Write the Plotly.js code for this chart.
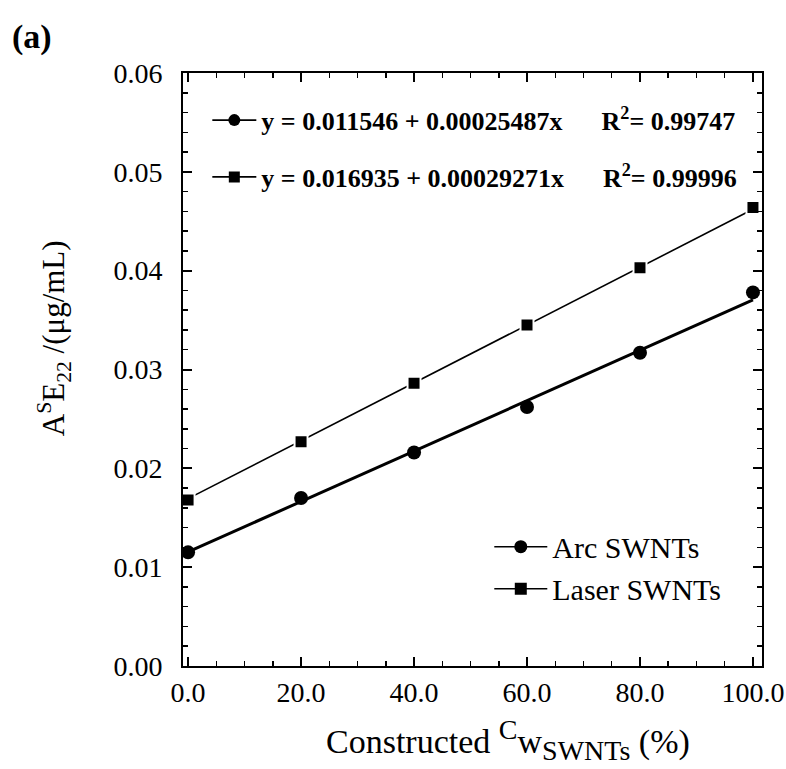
<!DOCTYPE html>
<html>
<head>
<meta charset="utf-8">
<script src="https://cdn.plot.ly/plotly-3.0.1.min.js"></script>
<style>html,body{margin:0;padding:0;background:#fff;}</style>
</head>
<body>
<div id="chart" style="width:786px;height:769px;"></div>
<script>
// ---- data ----
const xVals = [0, 20, 40, 60, 80, 100];
const arcValues = [0.0115, 0.0170, 0.0216, 0.0262, 0.0317, 0.0378];
const laserValues = [0.0168, 0.0227, 0.0286, 0.0345, 0.0403, 0.0464];
const fitX = [0, 100];
const arcFit = [0.011546, 0.037033];
const laserFit = [0.016935, 0.046206];
const seriesNames = ["Arc SWNTs", "Laser SWNTs"];
const equationLabels = [
  "y = 0.011546 + 0.00025487x&nbsp;&nbsp;&nbsp;&nbsp;&nbsp;&nbsp;R<sup>2</sup>= 0.99747",
  "y = 0.016935 + 0.00029271x&nbsp;&nbsp;&nbsp;&nbsp;&nbsp;&nbsp;R<sup>2</sup>= 0.99996"
];
const xTickVals = [0, 20, 40, 60, 80, 100];
const xTickText = ["0.0", "20.0", "40.0", "60.0", "80.0", "100.0"];
const yTickVals = [0, 0.01, 0.02, 0.03, 0.04, 0.05, 0.06];
const yTickText = ["0.00", "0.01", "0.02", "0.03", "0.04", "0.05", "0.06"];

const FONT = "Liberation Serif, Times New Roman, serif";

const traces = [
  {x: fitX, y: arcFit, mode: "lines", line: {color: "#000", width: 3}, showlegend: false, hoverinfo: "skip"},
  {x: fitX, y: laserFit, mode: "lines", line: {color: "#000", width: 1.6}, showlegend: false, hoverinfo: "skip"},
  {x: xVals, y: arcValues, mode: "markers", marker: {symbol: "circle", size: 14, color: "#000"}, showlegend: false},
  {x: xVals, y: laserValues, mode: "markers", marker: {symbol: "square", size: 13, color: "#000", line: {color: "#fff", width: 2}}, showlegend: false},
  // equation legend (top-left)
  {x: [null], y: [null], mode: "lines+markers", name: equationLabels[0], legend: "legend", legendgroup: "e1",
   line: {color: "#000", width: 1.6}, marker: {symbol: "circle", size: 12, color: "#000"}},
  {x: [null], y: [null], mode: "lines+markers", name: equationLabels[1], legend: "legend", legendgroup: "e2",
   line: {color: "#000", width: 1.6}, marker: {symbol: "square", size: 11, color: "#000"}},
  // series legend (bottom-right)
  {x: [null], y: [null], mode: "lines+markers", name: seriesNames[0], legend: "legend2", legendgroup: "s1",
   line: {color: "#000", width: 1.6}, marker: {symbol: "circle", size: 13, color: "#000"}},
  {x: [null], y: [null], mode: "lines+markers", name: seriesNames[1], legend: "legend2", legendgroup: "s2",
   line: {color: "#000", width: 1.6}, marker: {symbol: "square", size: 12, color: "#000"}}
];

const layout = {
  width: 786, height: 769,
  margin: {l: 183, r: 24, t: 73, b: 103},
  paper_bgcolor: "#fff", plot_bgcolor: "#fff",
  font: {family: FONT, color: "#000", size: 28},
  showlegend: true,
  xaxis: {
    range: [-0.9, 101.6], showgrid: false, zeroline: false,
    showline: true, linecolor: "#000", linewidth: 2, mirror: "ticks",
    ticks: "inside", ticklen: 9, tickwidth: 2, tickcolor: "#000",
    tickvals: xTickVals, ticktext: xTickText,
    tickfont: {family: FONT, size: 28, color: "#000"},
    minor: {dtick: 5, tick0: 0, ticks: "inside", ticklen: 5, tickwidth: 1.5, tickcolor: "#000"}
  },
  yaxis: {
    range: [0, 0.06], showgrid: false, zeroline: false,
    showline: true, linecolor: "#000", linewidth: 2, mirror: "ticks",
    ticks: "inside", ticklen: 9, tickwidth: 2, tickcolor: "#000",
    tickvals: yTickVals, ticktext: yTickText, ticklabelstandoff: 13,
    tickfont: {family: FONT, size: 28, color: "#000"},
    minor: {dtick: 0.002, tick0: 0, ticks: "inside", ticklen: 5, tickwidth: 1.5, tickcolor: "#000"}
  },
  legend: {
    x: 0.042, y: 0.96, xanchor: "left", yanchor: "top",
    bgcolor: "rgba(0,0,0,0)", borderwidth: 0,
    font: {family: FONT, size: 26, color: "#000", weight: "bold"},
    tracegroupgap: 20, itemwidth: 44
  },
  legend2: {
    x: 0.529, y: 0.245, xanchor: "left", yanchor: "top",
    bgcolor: "rgba(0,0,0,0)", borderwidth: 0,
    font: {family: FONT, size: 30, color: "#000"},
    tracegroupgap: 0, itemwidth: 53
  },
  annotations: [
    {text: "(a)", xref: "paper", yref: "paper", x: -0.261, y: 1.061, xanchor: "center", yanchor: "middle",
     showarrow: false, font: {family: FONT, size: 34, color: "#000", weight: "bold"}},
    {text: "Constructed <sup><span style=\"font-size:28px\">C</span></sup>w<sub><span style=\"font-size:28px\">SWNTs</span></sub> (%)",
     xref: "paper", yref: "paper", x: 0.562, y: -0.125,
     xanchor: "center", yanchor: "middle", showarrow: false, font: {family: FONT, size: 34, color: "#000"}},
    {text: "A<sup>S</sup>E<sub>22</sub> /(μg/mL)", xref: "paper", yref: "paper", x: -0.2225, y: 0.553,
     xanchor: "center", yanchor: "middle", textangle: -90, showarrow: false,
     font: {family: FONT, size: 31, color: "#000"}}
  ]
};

Plotly.newPlot("chart", traces, layout, {displayModeBar: false, staticPlot: true});
</script>
</body>
</html>
